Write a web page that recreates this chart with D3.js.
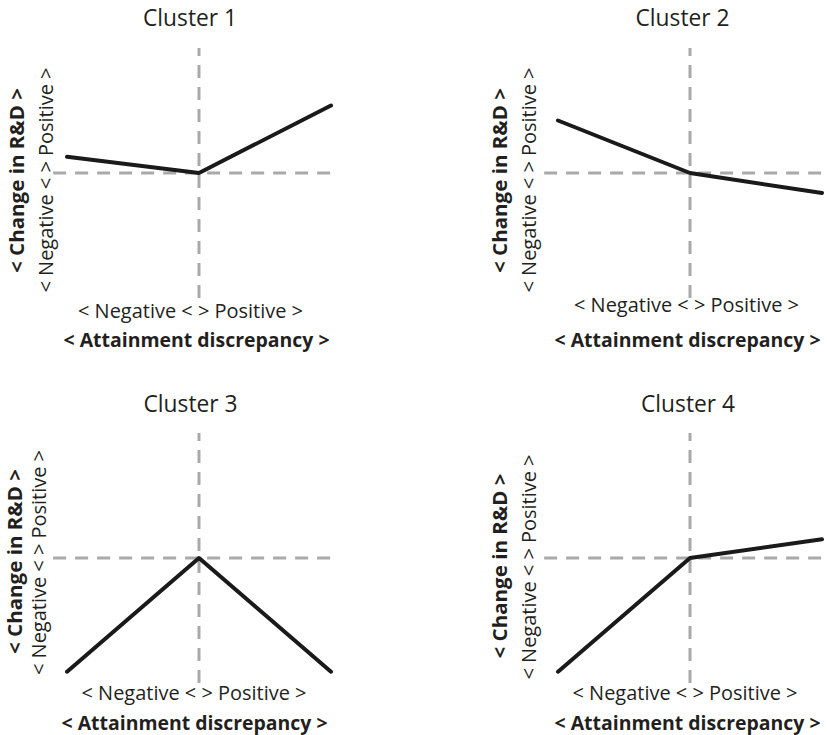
<!DOCTYPE html>
<html>
<head>
<meta charset="utf-8">
<script src="https://cdn.jsdelivr.net/npm/d3@7"></script>
<style>
  html, body { margin: 0; padding: 0; background: #fff; }
  svg { display: block; }
  text { font-family: "Open Sans", sans-serif; fill: #231f20; }
</style>
</head>
<body>
<svg id="chart" width="827" height="735"></svg>
<script>
// Stylised response of R&D change to attainment discrepancy, per cluster
const clusters = ["Cluster 1", "Cluster 2", "Cluster 3", "Cluster 4"];
const discrepancy = [-1, 0, 1];            // negative, zero, positive
const rdCluster1 = [0.13, 0, 0.54];
const rdCluster2 = [0.42, 0, -0.16];
const rdCluster3 = [-0.91, 0, -0.91];
const rdCluster4 = [-0.91, 0, 0.15];
const series = [rdCluster1, rdCluster2, rdCluster3, rdCluster4];

const xAxisScaleLabel = "< Negative < > Positive >";
const xAxisTitle = "< Attainment discrepancy >";
const yAxisScaleLabel = "< Negative < > Positive >";
const yAxisTitle = "< Change in R&D >";

// Panel layout: origin of each small multiple plus text placement
const panels = [
  { cx: 199, cy: 173, titleX: -9,  titleY: 26,  xl: { dx: -8.5, y: 318 }, xt: { dx: -2.5, y: 347 }, yl: { x: 53, dy: 7 },  yt: { x: 24, dy: 7.5 } },
  { cx: 690, cy: 173, titleX: -7.5, titleY: 26, xl: { dx: -3.5, y: 312 }, xt: { dx: -2.5, y: 347 }, yl: { x: 536, dy: 7 }, yt: { x: 507, dy: 7.5 } },
  { cx: 199, cy: 558, titleX: -8.5, titleY: 412, xl: { dx: -5, y: 700 }, xt: { dx: -4.5, y: 730 },  yl: { x: 46, dy: 4.5 }, yt: { x: 22, dy: 3.5 } },
  { cx: 690, cy: 558, titleX: -2,  titleY: 412, xl: { dx: -5, y: 700 },  xt: { dx: -2.5, y: 730 },  yl: { x: 536, dy: 9 }, yt: { x: 507, dy: 8 } }
];

const svg = d3.select("#chart");

function label(g, txt, size, weight, len) {
  return g.append("text")
    .attr("text-anchor", "middle")
    .attr("textLength", len)
    .attr("lengthAdjust", "spacingAndGlyphs")
    .style("font-size", size + "px")
    .style("font-weight", weight)
    .text(txt);
}

panels.forEach((p, i) => {
  const x = d3.scaleLinear().domain([-1, 1]).range([p.cx - 132, p.cx + 132]);
  const y = d3.scaleLinear().domain([-1, 1]).range([p.cy + 125, p.cy - 125]);
  const g = svg.append("g");

  // dashed zero reference lines
  g.append("line")
    .attr("x1", x(-1.105)).attr("x2", x(1.053))
    .attr("y1", y(0)).attr("y2", y(0))
    .attr("stroke", "#a9a9ab").attr("stroke-width", 3)
    .attr("stroke-dasharray", "13,9");
  g.append("line")
    .attr("x1", x(0)).attr("x2", x(0))
    .attr("y1", y(-1)).attr("y2", y(1))
    .attr("stroke", "#a9a9ab").attr("stroke-width", 3)
    .attr("stroke-dasharray", "13,9");

  // response line
  const line = d3.line()
    .x((d, j) => x(discrepancy[j]))
    .y(d => y(d));
  g.append("path")
    .datum(series[i])
    .attr("d", line)
    .attr("fill", "none")
    .attr("stroke", "#1a1a1a")
    .attr("stroke-width", 4)
    .attr("stroke-linecap", "round")
    .attr("stroke-linejoin", "round");

  // panel title
  label(g, clusters[i], 23, "normal", 94)
    .attr("x", p.cx + p.titleX).attr("y", p.titleY);

  // x-axis labels
  label(g, xAxisScaleLabel, 20, "normal", 225)
    .attr("x", p.cx + p.xl.dx).attr("y", p.xl.y);
  label(g, xAxisTitle, 20, "bold", 266)
    .attr("x", p.cx + p.xt.dx).attr("y", p.xt.y);

  // y-axis labels (rotated)
  label(g, yAxisScaleLabel, 20, "normal", 225)
    .attr("transform", `translate(${p.yl.x},${p.cy + p.yl.dy}) rotate(-90)`);
  label(g, yAxisTitle, 20, "bold", 185)
    .attr("transform", `translate(${p.yt.x},${p.cy + p.yt.dy}) rotate(-90)`);
});
</script>
</body>
</html>
